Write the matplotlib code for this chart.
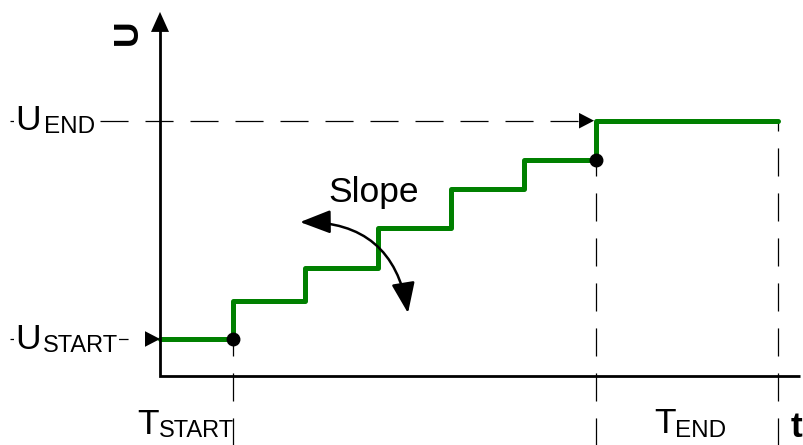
import matplotlib
matplotlib.use("Agg")
import matplotlib.pyplot as plt

plt.rcParams["font.family"] = ["Liberation Sans", "DejaVu Sans"]
plt.rcParams["lines.scale_dashes"] = False

# Staircase ramp: one step per time unit, T_START is the first step
STEP_TIMES = [0, 1, 2, 3, 4, 5, 6]
STEP_LEVELS = [1.0, 2.03, 2.92, 4.0, 5.05, 5.85, 6.9]
T_END = 8.5

T_START = STEP_TIMES[1]
T_LAST = STEP_TIMES[-1]
U_START = STEP_LEVELS[0]
U_END = STEP_LEVELS[-1]

# axis extent and the end points of the "Slope" arc
X_AXIS_TIP = 9.0
Y_AXIS_TIP = 9.84
SLOPE_ARC_START = (1.926, 4.16)
SLOPE_ARC_END = (3.411, 1.70)

GREEN = "#008000"
PX = 0.72  # points per pixel at dpi 100


def px(dx, dy):
    """Pixel offset -> offset in points."""
    return (dx * PX, dy * PX)


def label(ax, text, xy, offset, size, **kw):
    ax.annotate(text, xy=xy, xytext=px(*offset), textcoords="offset points",
                ha=kw.pop("ha", "left"), va=kw.pop("va", "baseline"),
                fontsize=size, zorder=5, **kw)


def head(ax, tip, offset, length, half_width):
    ax.annotate("", xy=tip, xytext=px(*offset), textcoords="offset points",
                arrowprops=dict(
                    arrowstyle=f"-|>,head_length={length * PX},"
                               f"head_width={half_width * PX}",
                    color="black", lw=0, shrinkA=0, shrinkB=0,
                    mutation_scale=1),
                zorder=6)


def main():
    fig = plt.figure(figsize=(8.04, 4.45), dpi=100)
    ax = fig.add_axes([0, 0, 1, 1])
    ax.set_xlim(-2.2009, 8.858)
    ax.set_ylim(-1.865, 10.162)
    ax.axis("off")

    dash = dict(color="black", lw=0.9, dashes=(20.2, 12.2), zorder=2)
    x_left = -2.063
    y_bottom = -2.0

    # horizontal guides for U_START / U_END
    ax.plot([x_left, 0], [U_START, U_START], **dash)
    ax.plot([x_left, T_LAST], [U_END, U_END], **dash)

    # vertical guides, drawn bottom-up
    ax.plot([T_START, T_START], [y_bottom, U_START], **dash)
    ax.plot([T_LAST, T_LAST], [y_bottom, STEP_LEVELS[-2]], **dash)
    ax.plot([T_END, T_END], [y_bottom, U_END], **dash)

    # axes
    ax.plot([0, 0, X_AXIS_TIP - 0.2], [Y_AXIS_TIP - 0.4, 0, 0],
            color="black", lw=2.0, solid_joinstyle="miter",
            solid_capstyle="butt", zorder=4)
    head(ax, (0, Y_AXIS_TIP), (0, -20), 20, 9)
    head(ax, (X_AXIS_TIP, 0), (-20, 0), 20, 9)

    # staircase
    ax.step(STEP_TIMES + [T_END], STEP_LEVELS + [U_END], where="post",
            color=GREEN, lw=3.6, solid_joinstyle="round",
            solid_capstyle="round", zorder=3)
    ax.plot([T_START, T_LAST], [U_START, STEP_LEVELS[-2]], "o",
            color="black", ms=9, zorder=5)

    # arrow heads on the U guides
    head(ax, (0, U_START), (-15, 0), 15, 7.8)
    head(ax, (T_LAST - 0.03, U_END), (-15, 0), 15, 7.8)

    # slope arc
    ax.annotate("", xy=SLOPE_ARC_END, xytext=SLOPE_ARC_START,
                arrowprops=dict(
                    arrowstyle=f"<|-|>,head_length={26 * PX},"
                               f"head_width={10 * PX}",
                    connectionstyle="arc3,rad=-0.43",
                    color="black", lw=1.8, shrinkA=0, shrinkB=0,
                    mutation_scale=1),
                zorder=6)

    white = dict(facecolor="white", edgecolor="none", pad=1)
    label(ax, "U", (0, U_START), (-144.8, -10.5), 25.5, bbox=white)
    label(ax, "START", (0, U_START), (-117.5, -13), 17, bbox=white)
    label(ax, "U", (0, U_END), (-144.8, -9.5), 25.5, bbox=white)
    label(ax, "END", (0, U_END), (-116.5, -12.5), 17.5, bbox=white)

    label(ax, "T", (T_START, 0), (-95.7, -58), 25.5)
    label(ax, "START", (T_START, 0), (-73.7, -61), 17)
    label(ax, "T", (T_LAST, 0), (58, -57), 25.5)
    label(ax, "END", (T_LAST, 0), (79, -61), 17.5)

    label(ax, "t", (T_END, 0), (13, -61), 25.5, fontweight="bold")
    label(ax, "U", (0, Y_AXIS_TIP), (-23, -20), 25.5, fontweight="bold",
          rotation=90, rotation_mode="anchor", ha="center")

    label(ax, "Slope", (STEP_TIMES[3], STEP_LEVELS[3]), (-49.5, 26), 25.5)

    fig.savefig("out.png", dpi=100)
    plt.close(fig)


if __name__ == "__main__":
    main()
